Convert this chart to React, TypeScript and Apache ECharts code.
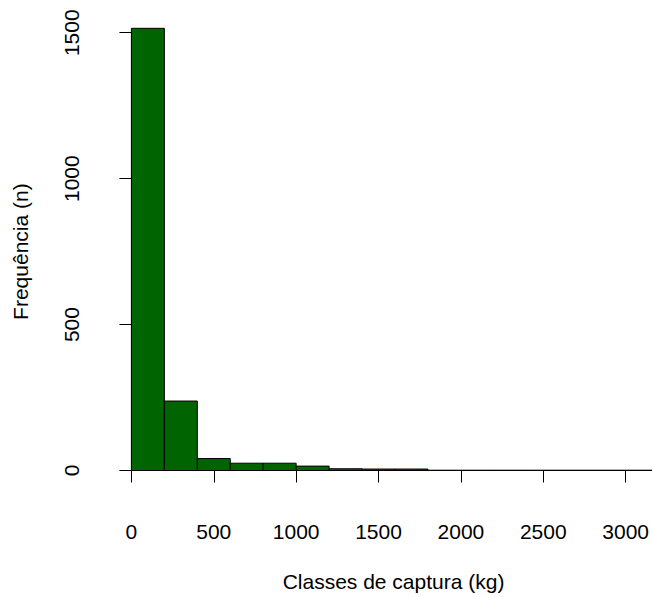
import React, { useEffect, useRef } from "react";
import * as echarts from "echarts";

// Histogram: class start (kg) and frequency
const binStarts = [0, 200, 400, 600, 800, 1000, 1200, 1400, 1600, 1800, 2000, 2200, 2400, 2600, 2800, 3000, 3200];
const counts = [1515, 238, 41, 25, 25, 15, 6, 5, 5, 1, 1, 1, 1, 1, 1, 1, 1];
const binWidth = 200;
const xTicks = [0, 500, 1000, 1500, 2000, 2500, 3000];
const yTicks = [0, 500, 1000, 1500];

export default function App() {
  const ref = useRef<HTMLDivElement>(null);
  useEffect(() => {
    if (!ref.current) return;
    const chart = echarts.init(ref.current, null, { renderer: "svg" });
    const data = binStarts.map((s, i) => [s, s + binWidth, counts[i]]);
    const font = "'Liberation Sans', Arial, Helvetica, sans-serif";
    const fs = 21;
    chart.setOption({
      animation: false,
      backgroundColor: "#ffffff",
      grid: { left: 131.4, top: 32.7, width: 497.6, height: 438.8, containLabel: false },
      xAxis: {
        type: "value",
        min: xTicks[0],
        max: xTicks[xTicks.length - 1],
        interval: 500,
        offset: 19.5,
        name: "Classes de captura (kg)",
        nameLocation: "middle",
        nameGap: 81,
        nameTextStyle: { color: "#000", fontSize: fs, fontFamily: font, padding: [0, 0, 0, 30] },
        axisLine: { show: true, lineStyle: { color: "#000", width: 1 } },
        axisTick: { show: true, length: 12, inside: false, lineStyle: { color: "#000", width: 1 } },
        axisLabel: {
          color: "#000", fontSize: fs, fontFamily: font, margin: 31,
          showMinLabel: true, showMaxLabel: true,
          formatter: (v: number) => String(v),
        },
        splitLine: { show: false },
      },
      yAxis: {
        type: "value",
        min: yTicks[0],
        max: yTicks[yTicks.length - 1],
        interval: 500,
        offset: 22,
        name: "Frequência (n)",
        nameLocation: "middle",
        nameGap: 78,
        nameTextStyle: { color: "#000", fontSize: fs, fontFamily: font },
        axisLine: { show: true, lineStyle: { color: "#000", width: 1 } },
        axisTick: { show: true, length: 12, inside: false, lineStyle: { color: "#000", width: 1 } },
        axisLabel: {
          color: "#000", fontSize: fs, fontFamily: font, margin: 27, rotate: 90,
          formatter: (v: number) => String(v),
        },
        splitLine: { show: false },
      },
      series: [
        {
          type: "custom",
          clip: false,
          data,
          renderItem: (params: any, api: any) => {
            const p0 = api.coord([api.value(0), 0]);
            const p1 = api.coord([api.value(1), api.value(2)]);
            return {
              type: "rect",
              shape: { x: p0[0], y: p1[1], width: p1[0] - p0[0], height: p0[1] - p1[1] },
              style: { fill: "#006400", stroke: "#000", lineWidth: 1 },
            };
          },
        },
      ],
    });
    return () => chart.dispose();
  }, []);
  return (
    <div
      ref={ref}
      style={{ position: "fixed", left: 0, top: 0, width: 652, height: 597, background: "#fff" }}
    />
  );
}
